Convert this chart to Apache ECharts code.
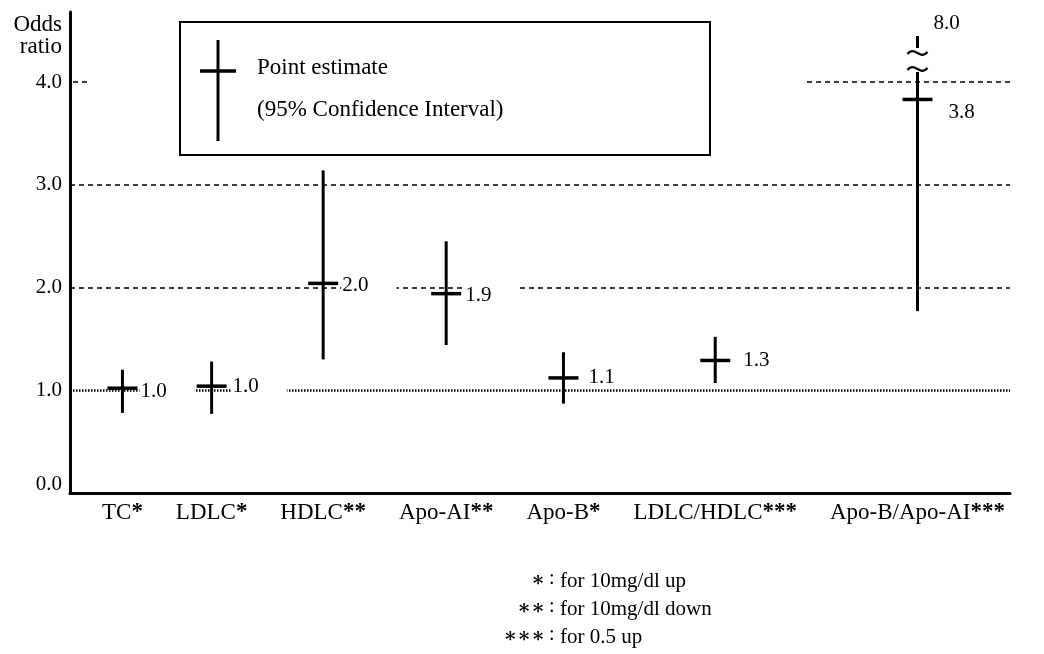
<!DOCTYPE html>
<html>
<head>
<meta charset="utf-8">
<script src="https://cdn.jsdelivr.net/npm/echarts@6/dist/echarts.min.js"></script>
<style>html,body{margin:0;padding:0;background:#fff}#c{width:1044px;height:654px}</style>
</head>
<body>
<div id="c"></div>
<script>
// ---------------- data ----------------
const categories = ['TC', 'LDLC', 'HDLC', 'Apo-AI', 'Apo-B', 'LDLC/HDLC', 'Apo-B/Apo-AI'];
const stars      = ['*', '*', '**', '**', '*', '***', '***'];
const estimate   = [1.02, 1.04, 2.04, 1.94, 1.12, 1.29, 3.83];
const ciLow      = [0.78, 0.77, 1.30, 1.44, 0.87, 1.07, 1.77];
const ciHigh     = [1.20, 1.28, 3.14, 2.45, 1.37, 1.52, 8.0];
const yTicks     = [0, 1, 2, 3, 4];
const footnoteMarks = ['*', '**', '***'];
const footnoteTexts = ['for 10mg/dl up', 'for 10mg/dl down', 'for 0.5 up'];
const legendTexts   = ['Point estimate', '(95% Confidence Interval)'];
const yAxisName     = 'Odds\nratio';

// ---------------- style / layout ----------------
const SERIF = '"Liberation Serif","DejaVu Serif",serif';
const W = 1044, H = 654;
const GRID = {left: 70, right: 34, top: 12, bottom: 161};
const plotW = W - GRID.left - GRID.right;
const plotH = H - GRID.top - GRID.bottom;
const PX_PER_UNIT = 102.75;
const Y_MAX = plotH / PX_PER_UNIT;
const LABEL_DX = [3, 6, 4, 4, 10, 13, 16];
const LABEL_DY = [3, 0, 2, 2, 0, 0, 13];
const VAL_FONT = '21px ' + SERIF;
const TEXT_FONT = '23px ' + SERIF;

// measure category label widths to lay the categories out like the reference
const ctx = document.createElement('canvas').getContext('2d');
function tw(t, font) { ctx.font = font; return ctx.measureText(t).width; }
const STAR_FONT = 'bold 23px ' + SERIF;
const labelW = categories.map((c, i) => tw(c, TEXT_FONT) + tw(stars[i], STAR_FONT));
const PAD_L = 32, PAD_R = 5;
const totalW = labelW.reduce((a, b) => a + b, 0);
const GAP = (plotW - PAD_L - PAD_R - totalW) / (categories.length - 1);
const xPos = [PAD_L + labelW[0] / 2];
for (let i = 1; i < categories.length; i++) {
  xPos.push(xPos[i - 1] + (labelW[i - 1] + labelW[i]) / 2 + GAP);
}

const rich = {
  n: {fontFamily: SERIF, fontSize: 23, color: '#000'},
  s: {fontFamily: SERIF, fontSize: 23, fontWeight: 'bold', color: '#000', verticalAlign: 'top'}
};

function renderItem(params, api) {
  const i = params.dataIndex;
  const cs = params.coordSys;
  const p = api.coord([api.value(0), api.value(1)]);
  const x = p[0], yE = p[1];
  const yL = api.coord([api.value(0), api.value(2)])[1];
  const hi = api.value(3);
  const broken = hi > Y_MAX;
  const yH = broken ? cs.y + 60 : api.coord([api.value(0), hi])[1];
  const ln = (x1, y1, x2, y2, w) => ({type: 'line', shape: {x1, y1, x2, y2}, style: {stroke: '#000', lineWidth: w}});
  const txt = api.value(1).toFixed(1);
  const tx = x + 15 + LABEL_DX[i], ty = yE + LABEL_DY[i];
  const ch = [];
  // white box behind the value label interrupts the grid line, as in the reference
  ch.push({type: 'rect', shape: {x: tx - 1, y: ty - 11, width: tw(txt, VAL_FONT) + 29, height: 22}, style: {fill: '#fff'}});
  ch.push(ln(x, yL, x, yH, 3), ln(x - 15, yE, x + 15, yE, 3.5));
  ch.push({type: 'text', style: {text: txt, x: tx, y: ty, align: 'left', verticalAlign: 'middle', font: VAL_FONT, fill: '#000'}});
  if (broken) {
    [cs.y + 41, cs.y + 57].forEach(by => {
      ch.push({type: 'bezierCurve', shape: {x1: x - 10, y1: by + 1, cpx1: x - 3, cpy1: by - 8, cpx2: x + 3, cpy2: by + 8, x2: x + 10, y2: by - 1},
               style: {stroke: '#000', lineWidth: 2.2, fill: null}});
    });
    ch.push(ln(x, cs.y + 24, x, cs.y + 36, 3));
    ch.push({type: 'text', style: {text: hi.toFixed(1), x: x + 16, y: cs.y + 11, align: 'left', verticalAlign: 'middle', font: VAL_FONT, fill: '#000'}});
  }
  return {type: 'group', children: ch};
}

const dashed = {type: [5, 4], width: 1.5, color: '#000'};
const dotted = {type: [1.5, 1.5], width: 2.5, color: '#000'};

const graphic = [
  {type: 'rect', z: 10, shape: {x: 180, y: 22, width: 530, height: 133}, style: {fill: '#fff', stroke: '#000', lineWidth: 2}},
  {type: 'line', z: 11, shape: {x1: 218, y1: 40, x2: 218, y2: 141}, style: {stroke: '#000', lineWidth: 3}},
  {type: 'line', z: 11, shape: {x1: 200, y1: 71, x2: 236, y2: 71}, style: {stroke: '#000', lineWidth: 3.5}},
  {type: 'text', z: 11, x: 257, y: 68, style: {text: legendTexts[0], font: TEXT_FONT, fill: '#000', verticalAlign: 'middle'}},
  {type: 'text', z: 11, x: 257, y: 110, style: {text: legendTexts[1], font: TEXT_FONT, fill: '#000', verticalAlign: 'middle'}},
  {type: 'text', z: 11, x: 62, y: 14, style: {text: yAxisName, font: TEXT_FONT, lineHeight: 22, fill: '#000', align: 'right', verticalAlign: 'top'}}
];
footnoteMarks.forEach((m, i) => {
  const y = 581 + i * 28;
  graphic.push({type: 'text', x: 545, y: y, style: {text: m.replace(/\*/g, '\u2217'), font: 'bold 20px "DejaVu Serif",serif', fill: '#000', align: 'right', verticalAlign: 'middle'}});
  graphic.push({type: 'text', x: 549, y: y - 2, style: {text: ':', font: '20px ' + SERIF, fill: '#000', align: 'left', verticalAlign: 'middle'}});
  graphic.push({type: 'text', x: 560, y: y, style: {text: footnoteTexts[i], font: '21px ' + SERIF, fill: '#000', align: 'left', verticalAlign: 'middle'}});
});

const chart = echarts.init(document.getElementById('c'), null, {renderer: 'canvas', devicePixelRatio: 1});
chart.setOption({
  animation: false,
  backgroundColor: '#fff',
  grid: GRID,
  xAxis: {
    type: 'value', min: 0, max: plotW,
    axisLine: {show: true, onZero: false, lineStyle: {color: '#000', width: 3}},
    axisTick: {show: false},
    splitLine: {show: false},
    axisLabel: {
      customValues: xPos, margin: 8, rich: rich,
      formatter: v => {
        const i = xPos.findIndex(p => Math.abs(p - v) < 0.5);
        if (i < 0) return '';
        return '{n|' + categories[i] + '}{s|' + stars[i] + '}';
      }
    }
  },
  yAxis: {
    type: 'value', min: 0, max: Y_MAX,
    axisLine: {show: true, lineStyle: {color: '#000', width: 3}},
    axisTick: {show: false},
    splitLine: {show: false},
    axisLabel: {
      customValues: yTicks, margin: 8, color: '#000', fontFamily: SERIF, fontSize: 21,
      rich: {z: {fontFamily: SERIF, fontSize: 21, color: '#000', padding: [0, 0, 18, 0]}},
      formatter: v => v === 0 ? '{z|' + v.toFixed(1) + '}' : v.toFixed(1)
    }
  },
  series: [
    {
      type: 'line', data: [], silent: true, z: 1,
      markLine: {
        z: 1, silent: true, symbol: ['none', 'none'], label: {show: false}, animation: false,
        data: [
          {yAxis: 1, lineStyle: dotted},
          {yAxis: 2, lineStyle: dashed},
          {yAxis: 3, lineStyle: dashed},
          [{coord: [3, 4], lineStyle: dashed}, {coord: [20, 4]}],
          [{coord: [737, 4], lineStyle: dashed}, {coord: [plotW, 4]}]
        ]
      }
    },
    {
      type: 'custom', z: 3, clip: false,
      data: categories.map((c, i) => [xPos[i], estimate[i], ciLow[i], ciHigh[i]]),
      renderItem: renderItem
    }
  ],
  graphic: graphic
});
</script>
</body>
</html>
